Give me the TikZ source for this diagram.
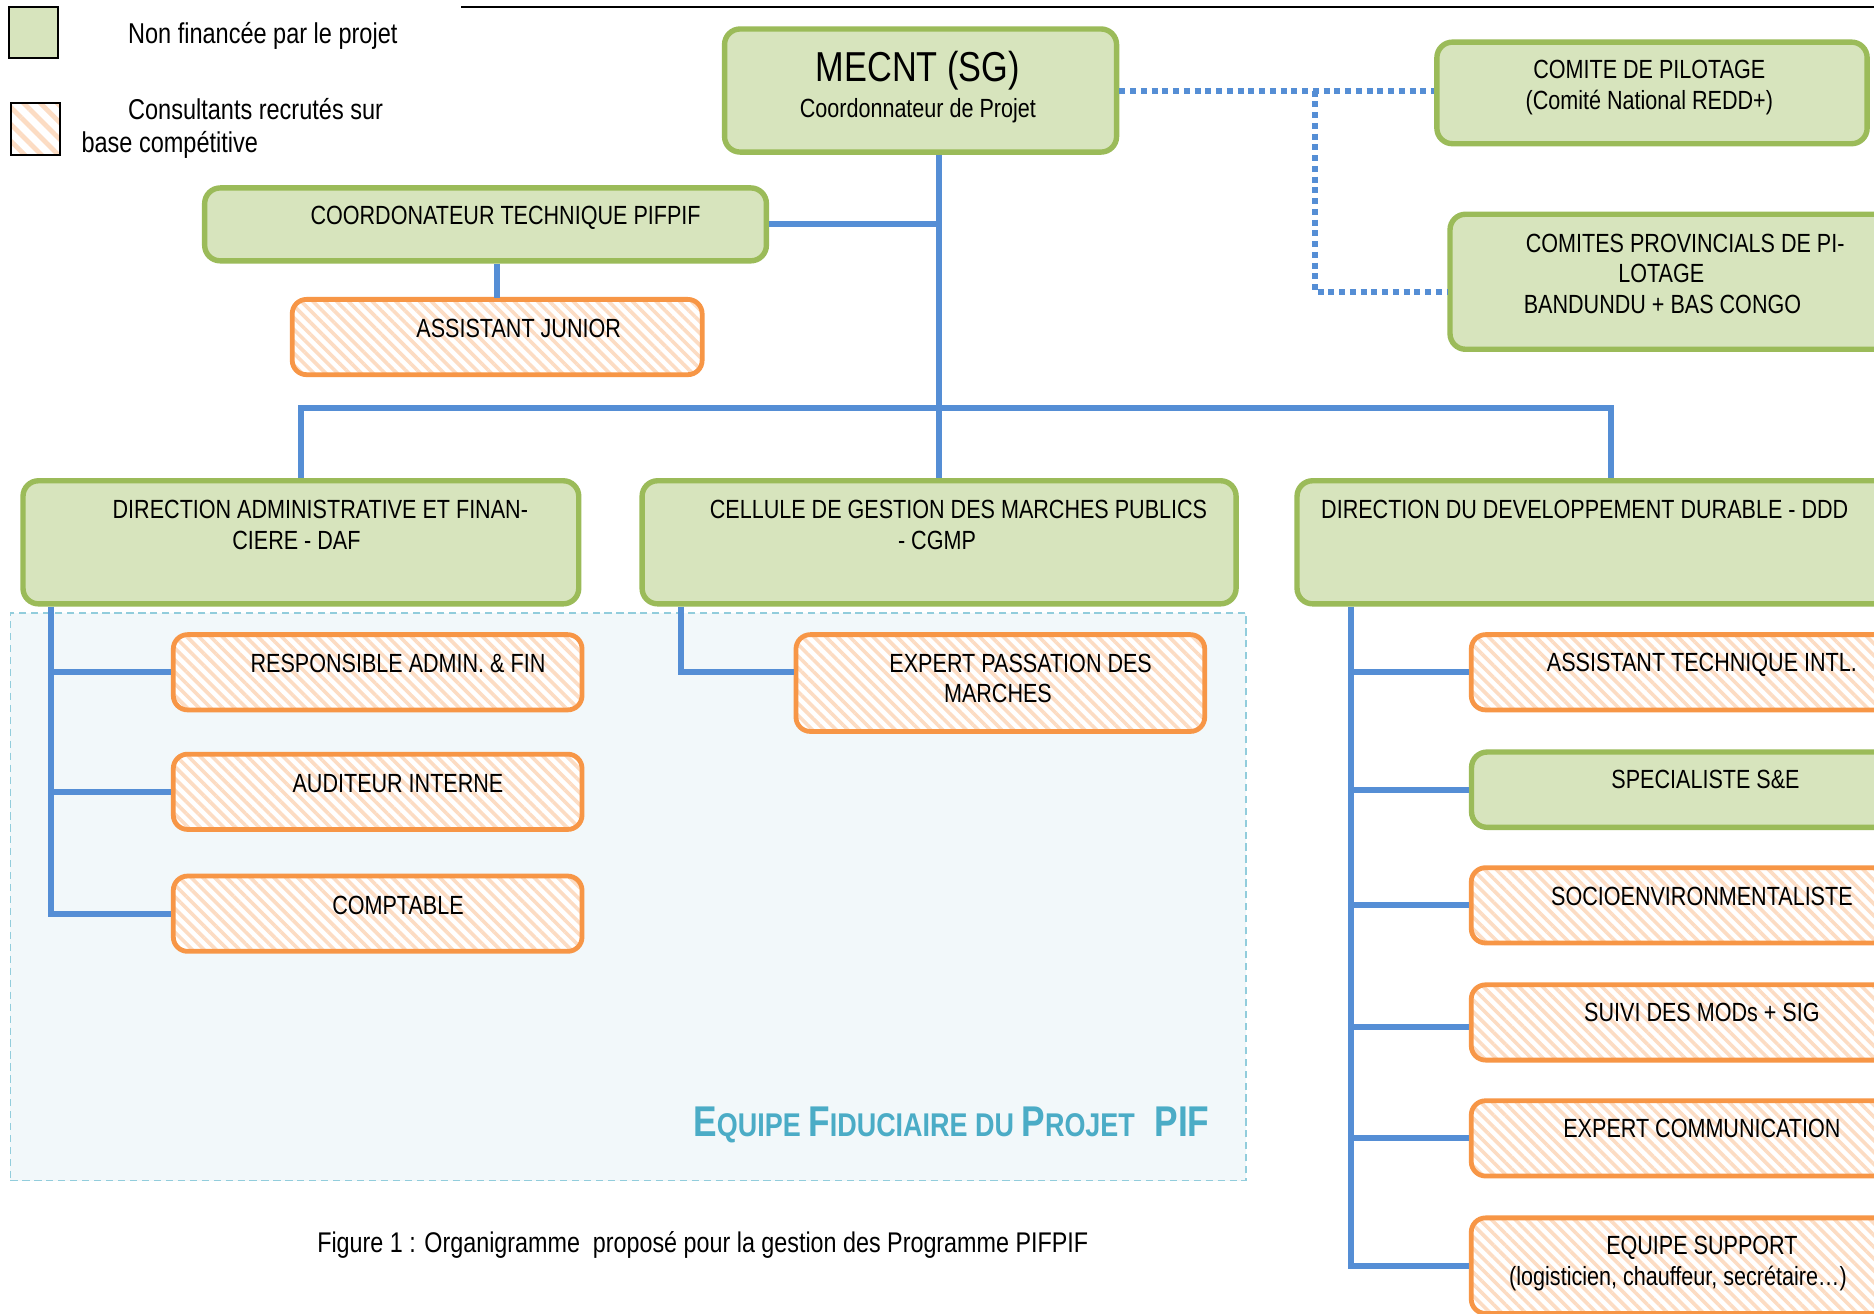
\documentclass[tikz,border=0pt]{standalone}
\usepackage{fontspec}
\setmainfont{Liberation Sans}[FakeStretch=0.82]
\usetikzlibrary{patterns.meta}
\definecolor{gfill}{HTML}{D7E4BD}
\definecolor{gborder}{HTML}{9BBB59}
\definecolor{oborder}{HTML}{F79646}
\definecolor{hatch}{HTML}{FCDCC3}
\definecolor{lblue}{HTML}{558ED5}
\definecolor{teal}{HTML}{4BACC6}
\definecolor{dashblue}{HTML}{92CDDC}
\definecolor{fbg}{HTML}{F2F8FA}
\begin{document}
\begin{tikzpicture}[x=1pt,y=-1pt,
  gbox/.style={draw=gborder, fill=gfill, line width=4.5pt, rounded corners=13pt, inner sep=0, anchor=north west},
  obox/.style={draw=oborder, line width=4pt, rounded corners=12pt, inner sep=0, anchor=north west,
     preaction={fill=white}, pattern={Lines[angle=-45,distance=7pt,line width=3pt]}, pattern color=hatch},
  link/.style={draw=lblue, line width=5pt},
  dotlink/.style={draw=lblue, line width=5pt, dash pattern=on 5pt off 4pt},
  txt/.style={inner sep=0, anchor=base, font=\fontsize{22}{26}\selectfont},
  ltxt/.style={inner sep=0, anchor=base west, font=\fontsize{24}{28}\selectfont},
]
\useasboundingbox (0,0) rectangle (1568,1099);
\fill[white] (0,0) rectangle (1568,1099);

% top rule
\coordinate (ruleA) at (386,6);
\coordinate (ruleB) at (1568,6);
\draw[line width=1.5pt] (ruleA) -- (ruleB);

% legend
\node[draw=black, line width=1.5pt, fill=gfill, minimum width=41pt, minimum height=43pt, anchor=north west, inner sep=0] (lg1) at (7,5) {};
\node[draw=black, line width=1.5pt, anchor=north west, inner sep=0, minimum width=41pt, minimum height=44pt,
  preaction={fill=white}, pattern={Lines[angle=-45,distance=10pt,line width=4pt]}, pattern color=hatch] (lg2) at (7,84) {};
\node[ltxt] (lg1t) at (107,36) {Non financée par le projet};
\node[ltxt] (lg2t) at (107,100) {Consultants recrutés sur};
\node[ltxt] (lg2u) at (68,128) {base compétitive};

% fiduciary region
\node[draw=dashblue, dash pattern=on 6pt off 4pt, line width=1.5pt, fill=fbg, minimum width=1034pt, minimum height=475pt, anchor=north west, inner sep=0] (fid) at (8,512) {};
\node[inner sep=0, anchor=base west, text=teal, font=\bfseries] (fidt) at (580,951)
  {{\fontsize{36}{40}\selectfont E}{\fontsize{27.5}{30}\selectfont QUIPE }{\fontsize{36}{40}\selectfont F}{\fontsize{27.5}{30}\selectfont IDUCIAIRE DU }{\fontsize{36}{40}\selectfont P}{\fontsize{27.5}{30}\selectfont ROJET}{\fontsize{36}{40}\selectfont\ \ PIF}};

% boxes
\node[gbox, minimum width=328pt, minimum height=103pt] (mecnt) at (604,22) {};
\node[gbox, minimum width=360pt, minimum height=85pt] (cp) at (1200,33) {};
\node[gbox, minimum width=400pt, minimum height=113pt] (cpp) at (1211,177) {};
\node[gbox, minimum width=470pt, minimum height=61pt] (coord) at (169,155) {};
\node[obox, minimum width=343pt, minimum height=63pt] (aj) at (243,249) {};
\node[gbox, minimum width=465pt, minimum height=103pt] (daf) at (17,400) {};
\node[gbox, minimum width=497pt, minimum height=103pt] (cgmp) at (535,400) {};
\node[gbox, minimum width=526pt, minimum height=103pt] (ddd) at (1083,400) {};
\node[obox, minimum width=342pt, minimum height=63pt] (rf) at (143,529) {};
\node[obox, minimum width=342pt, minimum height=63pt] (ai) at (143,629) {};
\node[obox, minimum width=342pt, minimum height=63pt] (cpt) at (143,731) {};
\node[obox, minimum width=342pt, minimum height=81pt] (ep) at (664,529) {};
\node[obox, minimum width=380pt, minimum height=63pt] (ati) at (1229,529) {};
\node[gbox, minimum width=380pt, minimum height=63pt] (sse) at (1229,627) {};
\node[obox, minimum width=380pt, minimum height=63pt] (soc) at (1229,724) {};
\node[obox, minimum width=380pt, minimum height=63pt] (suivi) at (1229,822) {};
\node[obox, minimum width=380pt, minimum height=63pt] (ec) at (1229,919) {};
\node[obox, minimum width=380pt, minimum height=80pt] (es) at (1229,1017) {};

% texts
\node[txt, font=\fontsize{35}{40}\selectfont] (mecnt1) at (768,68.5) {MECNT (SG)};
\node[txt] (mecnt2) at (768,98) {Coordonnateur de Projet};
\node[txt] (cp1) at (1380,66) {COMITE DE PILOTAGE};
\node[txt] (cp2) at (1380,92) {(Comité National REDD+)};
\node[txt] (cpp1) at (1410,211) {COMITES PROVINCIALS DE PI-};
\node[txt] (cpp2) at (1390,236) {LOTAGE};
\node[txt] (cpp3) at (1391,262) {BANDUNDU + BAS CONGO};
\node[txt] (coordt) at (423,188) {COORDONATEUR TECHNIQUE PIFPIF};
\node[txt] (ajt) at (434,282) {ASSISTANT JUNIOR};
\node[txt] (daf1) at (268,434) {DIRECTION ADMINISTRATIVE ET FINAN-};
\node[txt] (daf2) at (248,460) {CIERE - DAF};
\node[txt] (cgmp1) at (802,434) {CELLULE DE GESTION DES MARCHES PUBLICS};
\node[txt] (cgmp2) at (784,460) {- CGMP};
\node[txt] (dddt) at (1326,434) {DIRECTION DU DEVELOPPEMENT DURABLE - DDD};
\node[txt] (rft) at (333,563) {RESPONSIBLE ADMIN. \& FIN};
\node[txt] (ait) at (333,663) {AUDITEUR INTERNE};
\node[txt] (cptt) at (333,765) {COMPTABLE};
\node[txt] (ep1) at (854,563) {EXPERT PASSATION DES};
\node[txt] (ep2) at (835,588) {MARCHES};
\node[txt] (atit) at (1424,562) {ASSISTANT TECHNIQUE INTL.};
\node[txt] (sset) at (1427,660) {SPECIALISTE S\&E};
\node[txt] (soct) at (1424,758) {SOCIOENVIRONMENTALISTE};
\node[txt] (suivit) at (1424,855) {SUIVI DES MODs + SIG};
\node[txt] (ect) at (1424,952) {EXPERT COMMUNICATION};
\node[txt] (es1) at (1424,1050) {EQUIPE SUPPORT};
\node[txt] (es2) at (1404,1076) {(logisticien, chauffeur, secrétaire…)};
\node[txt, font=\fontsize{23.8}{28}\selectfont] (caption) at (588,1048) {Figure 1 : Organigramme\ \ proposé pour la gestion des Programme PIFPIF};

% connectors
\coordinate (bus) at (0,341);
\coordinate (dv) at (1100,0);
\draw[dotlink] (mecnt.east) -- (mecnt.east -| cp.west);
\draw[dotlink] (mecnt.east -| dv) |- ([yshift=-8.5pt]cpp.west);
\draw[link] (mecnt.south -| cgmp.north) -- (cgmp.north);
\draw[link] (coord.east) -- (coord.east -| cgmp.north);
\draw[link] (coord.south -| aj.north) -- (aj.north);
\draw[link] (daf.north) -- (daf.north |- bus) -- (ddd.north |- bus) -- (ddd.north);

\coordinate (dafv) at ([xshift=26pt]daf.south west);
\draw[link] (dafv) -- (dafv |- cpt.west) -- (cpt.west);
\draw[link] (dafv |- rf.west) -- (rf.west);
\draw[link] (dafv |- ai.west) -- (ai.west);

\coordinate (cgv) at ([xshift=35pt]cgmp.south west);
\draw[link] (cgv) |- ([yshift=9.5pt]ep.west);

\coordinate (dddv) at ([xshift=47pt]ddd.south west);
\draw[link] (dddv) -- (dddv |- es.west) -- (es.west);
\draw[link] (dddv |- ati.west) -- (ati.west);
\draw[link] (dddv |- sse.west) -- (sse.west);
\draw[link] (dddv |- soc.west) -- (soc.west);
\draw[link] ([yshift=-4pt]dddv |- suivi.west) -- ([yshift=-4pt]suivi.west);
\draw[link] (dddv |- ec.west) -- (ec.west);
\end{tikzpicture}
\end{document}
